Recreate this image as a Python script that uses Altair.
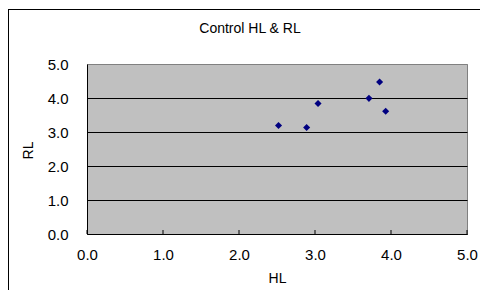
import altair as alt
import pandas as pd

# data
hl = [2.52, 2.89, 3.04, 3.71, 3.85, 3.93]
rl = [3.19, 3.13, 3.84, 3.99, 4.47, 3.61]
x_ticks = [0.0, 1.0, 2.0, 3.0, 4.0, 5.0]
y_ticks = [0.0, 1.0, 2.0, 3.0, 4.0, 5.0]
title_text = "Control HL & RL"

df = pd.DataFrame({"HL": hl, "RL": rl})
ticks_df = pd.DataFrame({"t": x_ticks})

FONT = "Liberation Sans"
W, H = 380, 170

xscale = alt.Scale(domain=[0, 5], nice=False)
yscale = alt.Scale(domain=[0, 5], nice=False)

points = alt.Chart(df).mark_point(
    shape="diamond", filled=True, color="#000080", size=50, opacity=1
).encode(
    x=alt.X("HL:Q", scale=xscale, title="HL",
            axis=alt.Axis(values=x_ticks, format=".1f", grid=False,
                          ticks=False, tickSize=0, labelPadding=13,
                          labelFlush=False,
                          domainColor="black", labelFont=FONT, labelFontSize=15,
                          labelColor="black", titleFont=FONT, titleFontSize=14,
                          titleFontWeight="normal", titleColor="black",
                          titleY=44, titleBaseline="middle")),
    y=alt.Y("RL:Q", scale=yscale, title="RL",
            axis=alt.Axis(values=y_ticks, format=".1f", grid=True,
                          gridColor={"condition": {"test": "datum.value === 5", "value": "#808080"}, "value": "black"},
                          gridWidth=1, ticks=False, tickSize=0, labelPadding=19,
                          labelFlush=False,
                          domainColor="black", labelFont=FONT, labelFontSize=15,
                          labelColor="black", titleFont=FONT, titleFontSize=14,
                          titleFontWeight="normal", titleColor="black",
                          titleX=-59, titleY=86, titleBaseline="middle")),
)

xtick_marks = alt.Chart(ticks_df).mark_rule(color="black", strokeWidth=1).encode(
    x=alt.X("t:Q", scale=xscale),
    y=alt.value(H - 4),
    y2=alt.value(H),
)

one = alt.Data(values=[{"a": 1}])
frame_left = alt.Chart(one).mark_rule(color="black", strokeWidth=1).encode(
    x=alt.value(-78.5), y=alt.value(-55), y2=alt.value(H + 60),
)
frame_top = alt.Chart(one).mark_rule(color="black", strokeWidth=1).encode(
    x=alt.value(-79), x2=alt.value(W + 20), y=alt.value(-54.5),
)
title_mark = alt.Chart(one).mark_text(
    text=title_text, font=FONT, fontSize=14, color="black",
    align="center", baseline="alphabetic"
).encode(x=alt.value(163), y=alt.value(-31))

chart = alt.layer(frame_left, frame_top, title_mark, xtick_marks, points).properties(
    width=W, height=H,
    autosize=alt.AutoSizeParams(type="none"),
    padding={"left": 79, "top": 56, "right": 13, "bottom": 56},
    background="white",
).configure_view(
    fill="#C0C0C0", stroke="#808080", strokeWidth=1
)

chart.save("out.html", embed_options={"renderer": "svg", "actions": False})
